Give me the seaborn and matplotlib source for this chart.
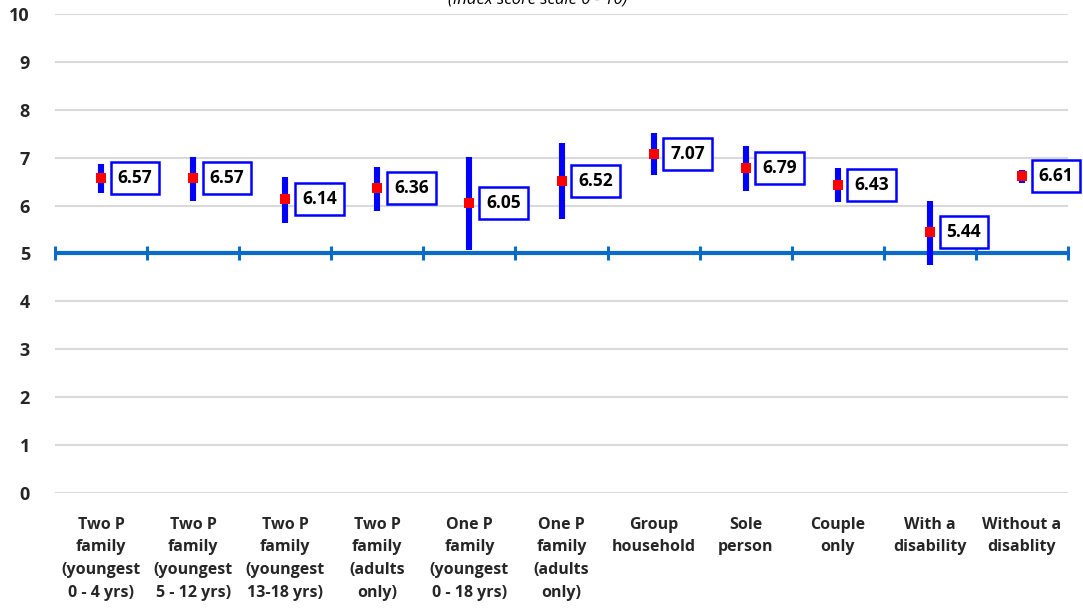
import matplotlib
matplotlib.use("Agg")
import matplotlib.pyplot as plt
import seaborn as sns
import pandas as pd
import numpy as np

categories = [
    "Two P\nfamily\n(youngest\n0 - 4 yrs)",
    "Two P\nfamily\n(youngest\n5 - 12 yrs)",
    "Two P\nfamily\n(youngest\n13-18 yrs)",
    "Two P\nfamily\n(adults\nonly)",
    "One P\nfamily\n(youngest\n0 - 18 yrs)",
    "One P\nfamily\n(adults\nonly)",
    "Group\nhousehold",
    "Sole\nperson",
    "Couple\nonly",
    "With a\ndisability",
    "Without a\ndisablity",
]
means = [6.57, 6.57, 6.14, 6.36, 6.05, 6.52, 7.07, 6.79, 6.43, 5.44, 6.61]
lower = [6.26, 6.10, 5.64, 5.89, 5.08, 5.72, 6.63, 6.30, 6.08, 4.76, 6.47]
upper = [6.87, 7.01, 6.60, 6.81, 7.01, 7.30, 7.51, 7.25, 6.78, 6.10, 6.74]
reference_value = 5
title_text = "(Index score scale 0 - 10)"

sns.set_theme(style="white")
plt.rcParams["font.family"] = ["Open Sans", "DejaVu Sans"]

# long-form table: low / mean / high per category; median = mean, 100% interval = low..high
rows = []
for c, lo, m, hi in zip(categories, lower, means, upper):
    for v in (lo, m, hi):
        rows.append({"cat": c, "score": v})
df = pd.DataFrame(rows)

W, H = 1083, 614
fig = plt.figure(figsize=(W / 100, H / 100), dpi=100)
ax = fig.add_axes([55 / W, 1 - 493 / H, (1068 - 55) / W, (493 - 14) / H])

ax.set_ylim(0, 10)
ax.set_yticks(range(0, 11))
ax.yaxis.grid(True, color="#D9D9D9", linewidth=1.5, zorder=0)
ax.set_axisbelow(True)

sns.pointplot(
    data=df, x="cat", y="score", order=categories,
    estimator="median", errorbar=("pi", 100),
    linestyle="none", marker="s", markersize=6.5, markeredgewidth=0,
    color="#FF0000",
    err_kws={"color": "#0000FF", "linewidth": 4.4, "solid_capstyle": "butt"},
    ax=ax,
)
ax.set_xlim(-0.5, len(categories) - 0.5)
ax.set_ylim(0, 10)

# markers above error bars
for ln in ax.lines:
    if ln.get_marker() not in (None, "None", "", " "):
        ln.set_zorder(6)
    else:
        ln.set_zorder(5)

# reference line at 5 with tick marks at category boundaries
ref_color = "#0A6CC8"
ax.axhline(reference_value, color=ref_color, linewidth=3.0, zorder=3)
sec = ax.secondary_xaxis(reference_value / 10.0)
sec.set_xticks(np.arange(-0.5, len(categories), 1.0))
sec.tick_params(axis="x", direction="inout", length=10, width=2.2,
                color=ref_color, labelbottom=False, labeltop=False)
for s in sec.spines.values():
    s.set_visible(False)

# value labels
for i, m in enumerate(means):
    ax.annotate(f"{m:.2f}", xy=(i, m), xytext=(12, 0), textcoords="offset points",
                ha="left", va="center", fontsize=12.5, fontweight="bold", color="black",
                bbox=dict(boxstyle="square,pad=0.4", fc="white", ec="#0000FF", lw=1.8),
                zorder=7, annotation_clip=False)

for s in ax.spines.values():
    s.set_visible(False)
ax.set_xlabel("")
ax.set_ylabel("")
ax.tick_params(axis="x", length=0, pad=17)
ax.tick_params(axis="y", length=0, pad=18)
ax.set_xticks(range(len(categories)))
ax.set_xticklabels(categories, fontsize=11.5, fontweight="bold", linespacing=1.56,
                   va="top", ha="center")
ax.set_yticklabels([str(v) for v in range(0, 11)], fontsize=13, fontweight="bold")

fig.text(538 / W, 1 - 3 / H, title_text, ha="center", va="baseline",
         fontsize=12, fontstyle="italic", color="black")

fig.savefig("out.png", dpi=100)
